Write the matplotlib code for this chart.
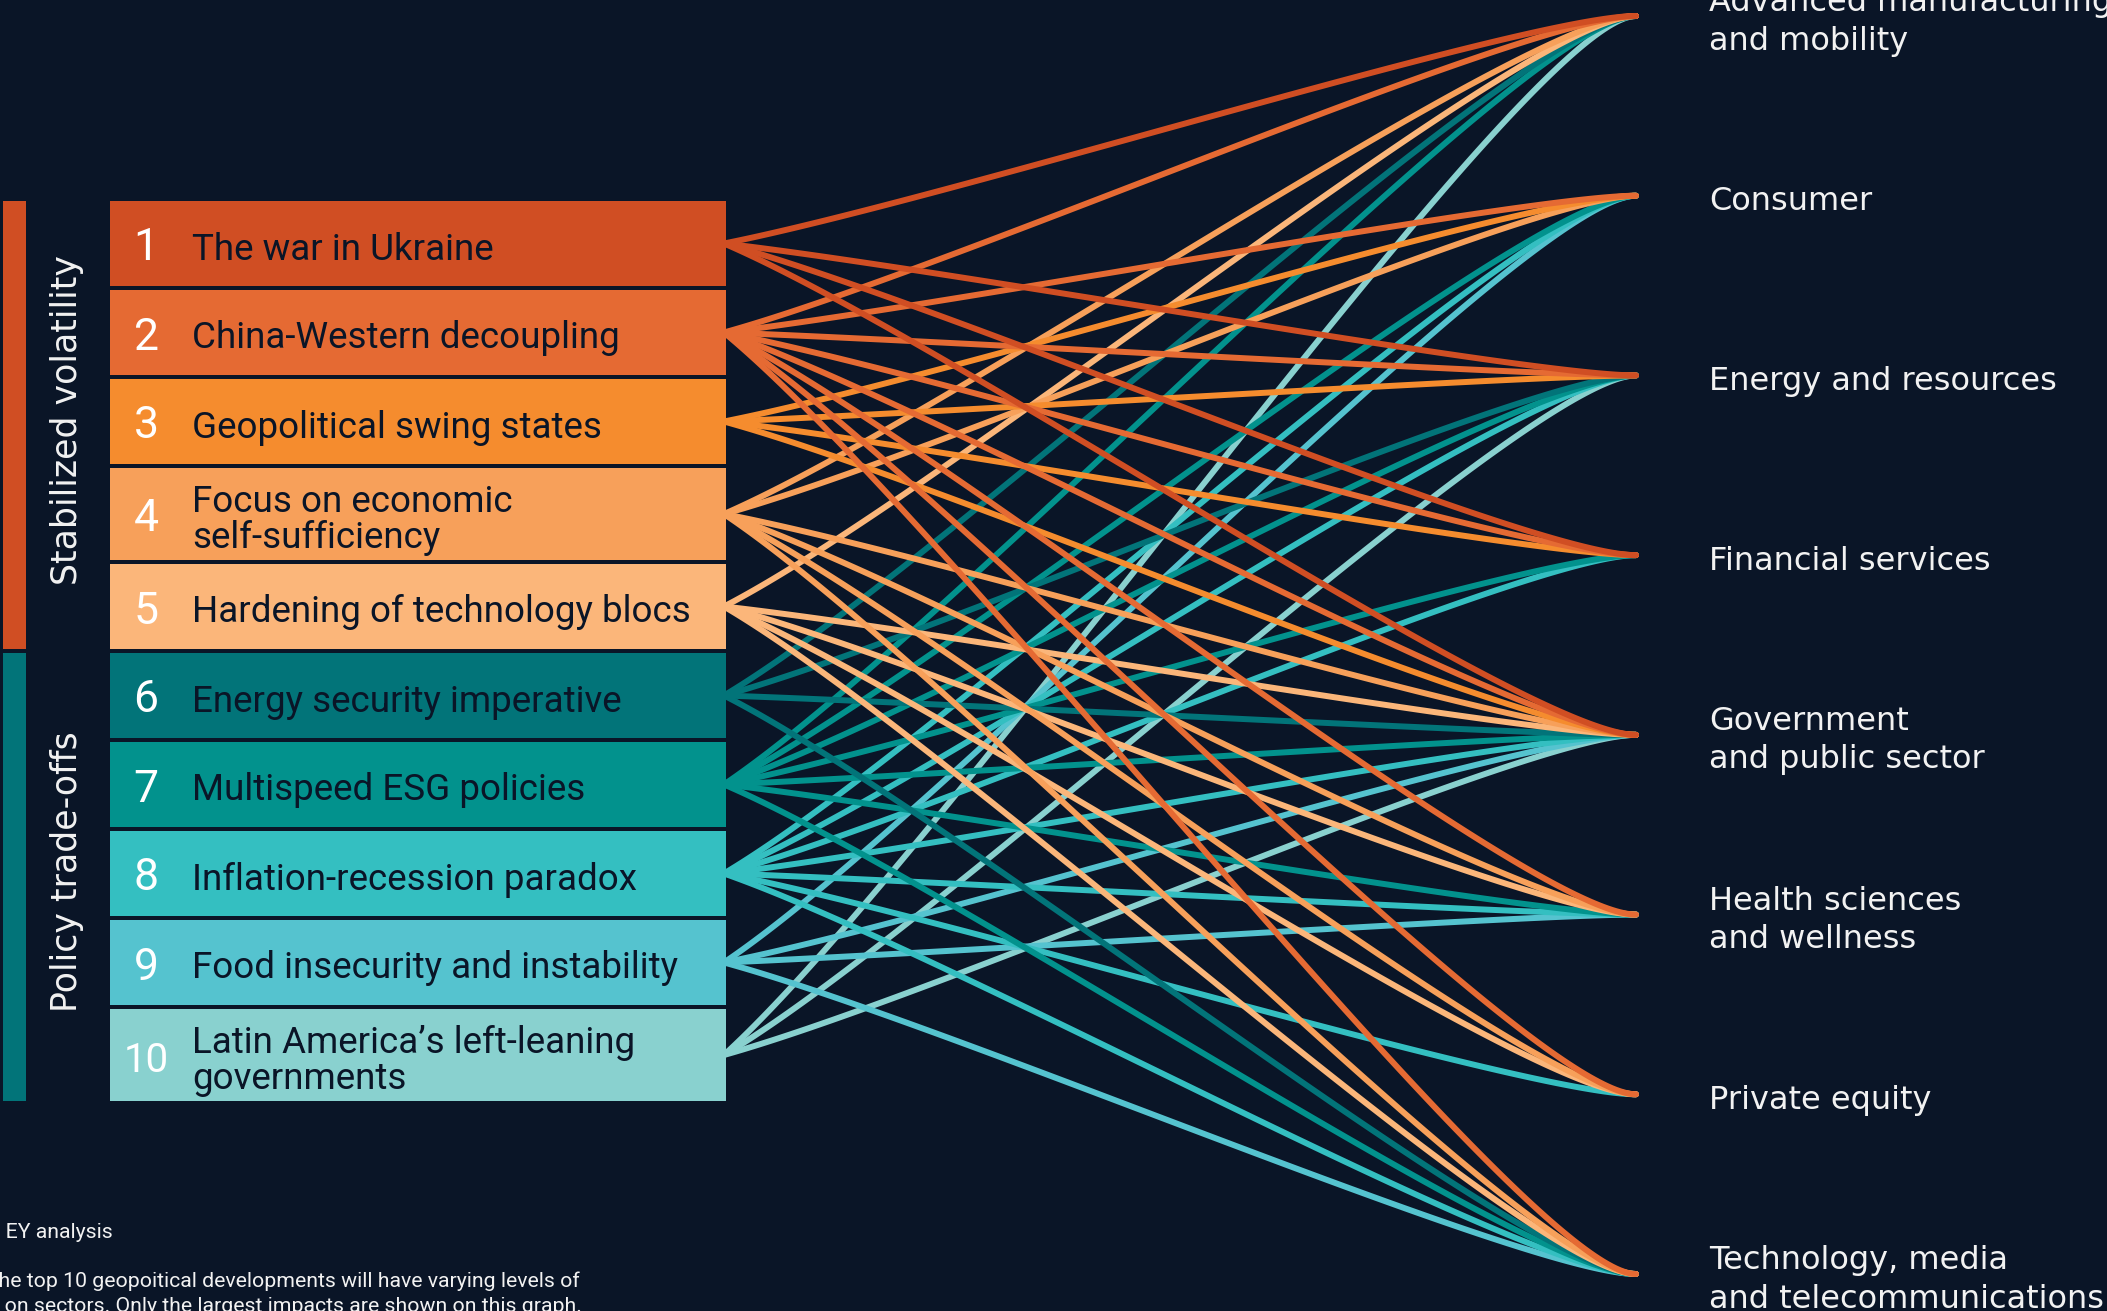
import numpy as np
import matplotlib.pyplot as plt
from matplotlib.patches import Rectangle

# ---- data -------------------------------------------------------------
developments = ['The war in Ukraine', 'China-Western decoupling', 'Geopolitical swing states',
                'Focus on economic\nself-sufficiency', 'Hardening of technology blocs',
                'Energy security imperative', 'Multispeed ESG policies', 'Inflation-recession paradox',
                'Food insecurity and instability', "Latin America’s left-leaning\ngovernments"]
dev_colors = ['#D04E23', '#E56A33', '#F58C2E', '#F7A05A', '#FBB67A',
              '#027479', '#02928D', '#34BFC1', '#55C3CF', '#89D1CF']
groups = ['Stabilized volatility', 'Policy trade-offs']
group_members = [[0, 1, 2, 3, 4], [5, 6, 7, 8, 9]]
group_colors = ['#D04E23', '#027479']

sectors = ['Advanced manufacturing\nand mobility', 'Consumer', 'Energy and resources',
           'Financial services', 'Government\nand public sector', 'Health sciences\nand wellness',
           'Private equity', 'Technology, media\nand telecommunications']

# sectors hit by each development (index into sectors)
impacts = [
    [0, 2, 3, 4],
    [0, 1, 2, 3, 4, 5, 6, 7],
    [1, 2, 3, 4],
    [0, 1, 4, 5, 6, 7],
    [0, 4, 5, 6, 7],
    [0, 2, 4, 7],
    [0, 1, 2, 3, 4, 5, 7],
    [1, 2, 3, 4, 5, 6, 7],
    [1, 4, 5, 7],
    [0, 2, 4],
]

source_note = 'Source: EY analysis'
note_lines = ['Note: The top 10 geopoitical developments will have varying levels of',
              'impacts on sectors. Only the largest impacts are shown on this graph.']

# ---- style ------------------------------------------------------------
BG = '#0A1527'
TXT = '#F2F2F2'
NARROW = 'Roboto'
W, H = 2107, 1311

fig = plt.figure(figsize=(W / 100, H / 100), dpi=100, facecolor=BG)
ax = fig.add_axes([0, 0, 1, 1])
ax.set_xlim(0, W)
ax.set_ylim(H, 0)
ax.axis('off')
ax.set_facecolor(BG)

# box layout
box_x0, box_x1 = 110, 726
gap = 4
tops, bottoms = [], []
y = 201
for lab in developments:
    h = 92 if '\n' in lab else 85
    tops.append(y)
    bottoms.append(y + h)
    y += h + gap
src_y = [(t + b) / 2 for t, b in zip(tops, bottoms)]

sec_y = np.linspace(16, 1274, len(sectors))
end_x = 1636


def bezier(x0, y0, x1, y1, n=120):
    dx, dy = x1 - x0, y1 - y0
    p = np.array([[x0, y0],
                  [x0 + 0.25 * dx, y0 + 0.2 * dy],
                  [x1 - 0.12 * dx, y1],
                  [x1, y1]])
    t = np.linspace(0, 1, n)[:, None]
    return ((1 - t) ** 3) * p[0] + 3 * ((1 - t) ** 2) * t * p[1] + 3 * (1 - t) * t ** 2 * p[2] + t ** 3 * p[3]


# links, teal group first so the orange group sits on top
for i in reversed(range(len(developments))):
    for s in impacts[i]:
        c = bezier(box_x1 - 2, src_y[i], end_x, sec_y[s])
        ax.plot(c[:, 0], c[:, 1], color=dev_colors[i], lw=4.3,
                solid_capstyle='round', zorder=2)

# boxes
for i, lab in enumerate(developments):
    ax.add_patch(Rectangle((box_x0, tops[i]), box_x1 - box_x0, bottoms[i] - tops[i],
                           facecolor=dev_colors[i], edgecolor='none', zorder=3))
    num = str(i + 1)
    ax.text(146, src_y[i] + 5, num, color='white', ha='center', va='center',
            fontsize=32 if len(num) == 1 else 29, family=NARROW, zorder=4)
    ax.text(192, src_y[i] + 6, lab, color=BG, ha='left', va='center', fontsize=26.5,
            family=NARROW, linespacing=1.0, zorder=4)

# group bars and vertical labels
for g, members in enumerate(group_members):
    top = tops[members[0]]
    bot = bottoms[members[-1]]
    ax.add_patch(Rectangle((3, top), 23, bot - top, facecolor=group_colors[g],
                           edgecolor='none', zorder=3))
    ax.text(67, (top + bot) / 2 - 5, groups[g], color=TXT, rotation=90, ha='center',
            va='center', fontsize=25, zorder=4)

# sector labels
for s, lab in enumerate(sectors):
    ax.text(1709, sec_y[s] + 6, lab, color=TXT, ha='left', va='center', fontsize=23,
            linespacing=1.3, zorder=4)

# footnotes (cut at the left edge as in the original)
ax.text(113, 1232, source_note, color=TXT, ha='right', va='center', fontsize=15.3, family=NARROW)
ax.text(580, 1281, note_lines[0], color=TXT, ha='right', va='center', fontsize=15.3, family=NARROW)
ax.text(582, 1307, note_lines[1], color=TXT, ha='right', va='center', fontsize=15.3, family=NARROW)

fig.savefig('out.png', dpi=100, facecolor=BG)
